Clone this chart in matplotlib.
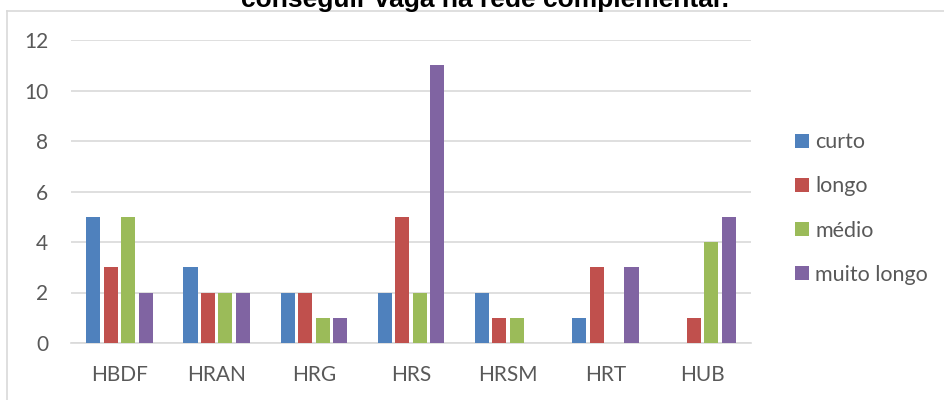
import matplotlib
matplotlib.use("Agg")
import matplotlib.pyplot as plt
import numpy as np
from matplotlib.lines import Line2D

categories = ["HBDF", "HRAN", "HRG", "HRS", "HRSM", "HRT", "HUB"]
series_names = ["curto", "longo", "médio", "muito longo"]
curto = [5, 3, 2, 2, 2, 1, 0]
longo = [3, 2, 2, 5, 1, 3, 1]
medio = [5, 2, 1, 2, 1, 0, 4]
muito_longo = [2, 2, 1, 11, 0, 3, 5]
series = [curto, longo, medio, muito_longo]
colors = ["#4F81BD", "#C0504D", "#9BBB59", "#8064A2"]
yticks = [0, 2, 4, 6, 8, 10, 12]
title = "conseguir vaga na rede complementar."

W, H = 945, 400
fig = plt.figure(figsize=(W / 100, H / 100), dpi=100)
ax = fig.add_axes([71 / W, 1 - 343 / H, (751 - 71) / W, (343 - 40) / H])

font = "Lato"
tcol = "#595959"
grid = "#D9D9D9"
fs = 15

x = np.arange(len(categories))
step = 0.18
bw = 0.145
for i, (vals, c, name) in enumerate(zip(series, colors, series_names)):
    ax.bar(x + (i - 1.5) * step, vals, width=bw, color=c, label=name, zorder=3)

ax.set_xlim(-0.5, len(categories) - 0.5)
ax.set_ylim(0, 12)
ax.set_yticks(yticks)
ax.set_yticklabels([str(v) for v in yticks], fontfamily=font, fontsize=fs, color=tcol)
ax.set_xticks(x)
ax.set_xticklabels(categories, fontfamily=font, fontsize=fs, color=tcol)
ax.tick_params(axis="both", length=0)
ax.tick_params(axis="y", pad=16.5)
ax.tick_params(axis="x", pad=16)
for s in ["top", "right", "left"]:
    ax.spines[s].set_visible(False)
ax.spines["bottom"].set_color(grid)
ax.spines["bottom"].set_linewidth(1.2)
ax.yaxis.grid(True, color=grid, linewidth=1.2, zorder=0)
ax.set_axisbelow(True)

leg = fig.legend(loc="center left", bbox_to_anchor=(795 / W, 1 - 208.5 / H), frameon=False,
                 prop={"family": font, "size": 15.5}, labelcolor=tcol,
                 handlelength=0.65, handleheight=0.65, handletextpad=0.3, labelspacing=1.12,
                 borderpad=0, borderaxespad=0)

# outer border
bc = "#D9D9D9"
fig.add_artist(Line2D([7.5 / W, 7.5 / W], [0, 1 - 11 / H], transform=fig.transFigure, color=bc, lw=1.2))
fig.add_artist(Line2D([7.5 / W, 1], [1 - 11 / H, 1 - 11 / H], transform=fig.transFigure, color=bc, lw=1.2))

fig.text(485 / W, 1 - 7 / H, title, ha="center", va="baseline", fontfamily="Liberation Sans",
         fontweight="bold", fontsize=19, color="black")

fig.savefig("out.png", dpi=100)
